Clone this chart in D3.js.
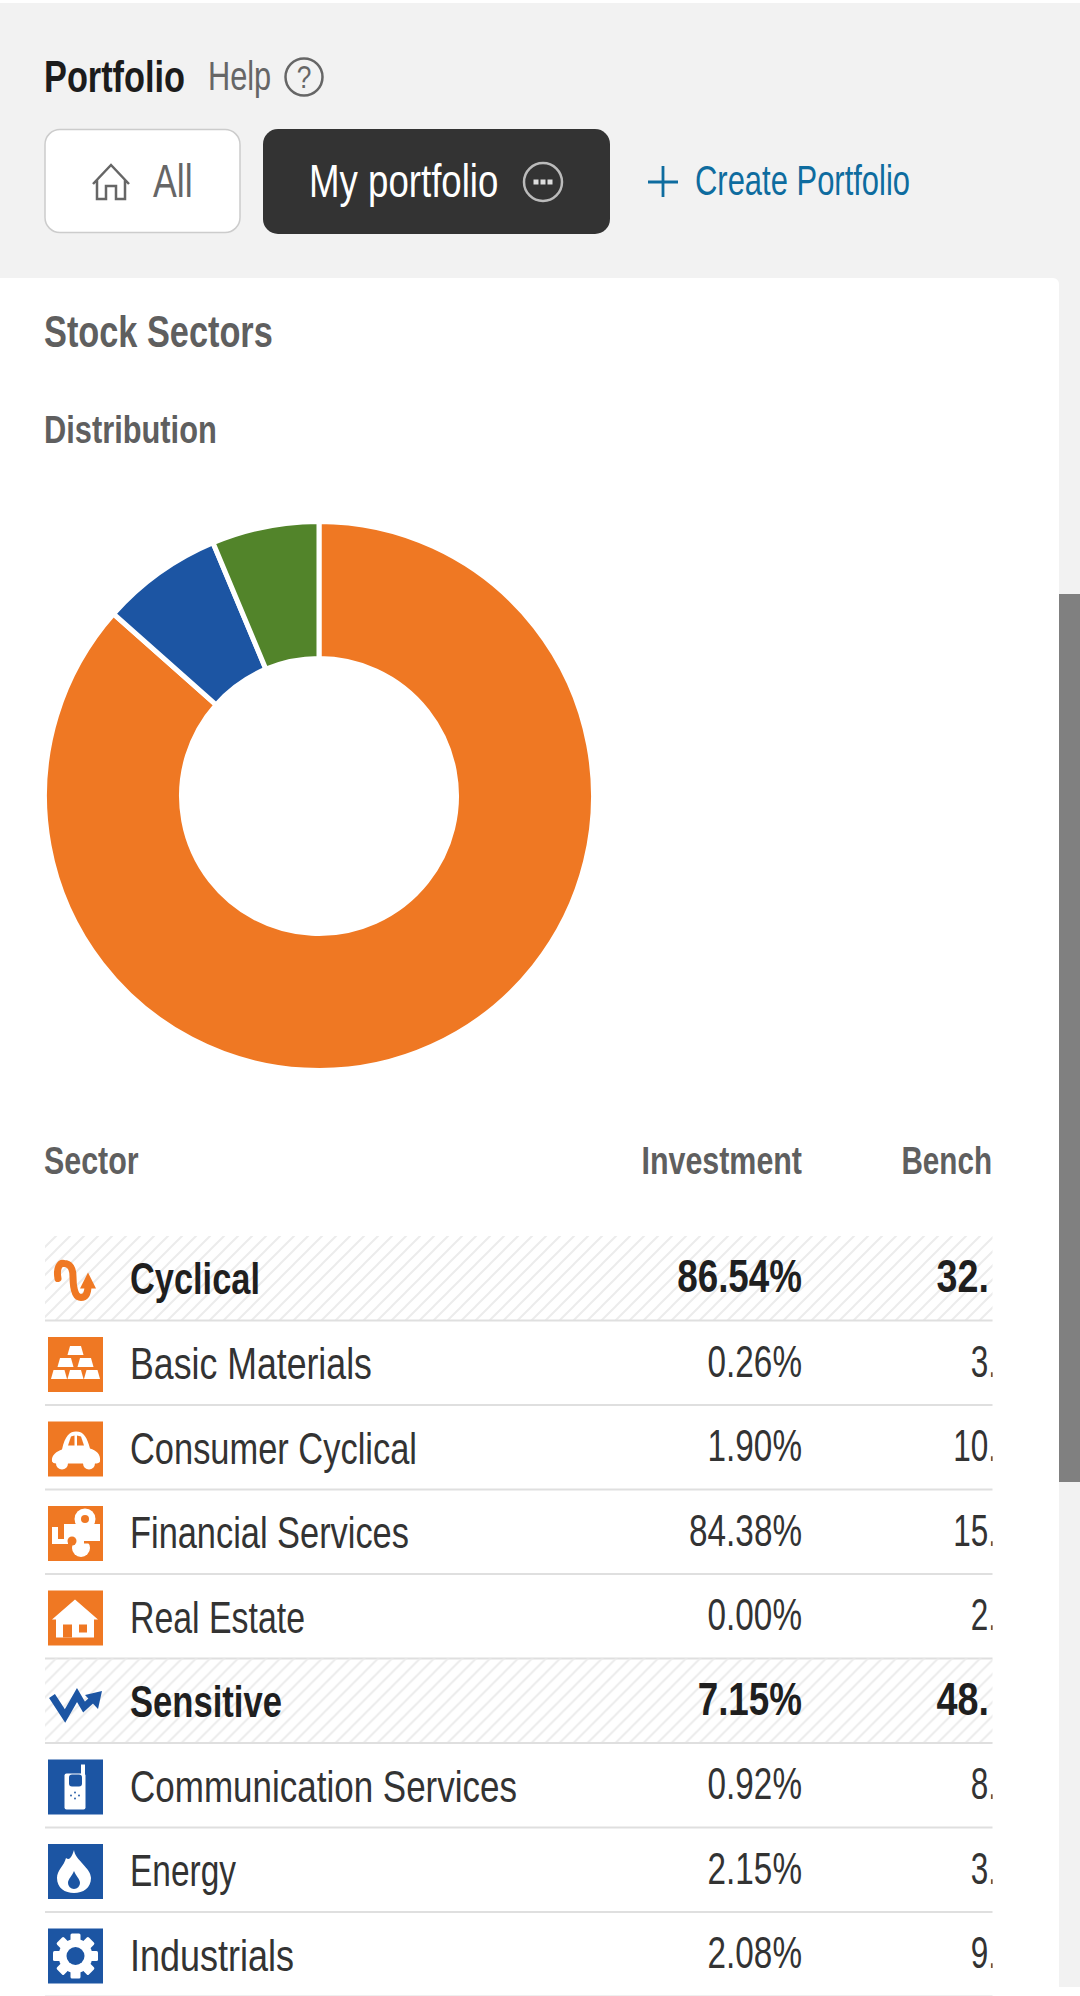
<!DOCTYPE html>
<html>
<head>
<meta charset="utf-8">
<script src="https://cdn.jsdelivr.net/npm/d3@7"></script>
<style>
  html, body { margin: 0; padding: 0; background: #fff; }
  svg { display: block; }
  text { font-family: "Liberation Sans", sans-serif; }
</style>
</head>
<body>
<div id="chart"></div>
<script>
// sector table
var sectorNames = ["Cyclical", "Basic Materials", "Consumer Cyclical", "Financial Services", "Real Estate",
                   "Sensitive", "Communication Services", "Energy", "Industrials"];
var investmentPct = [86.54, 0.26, 1.90, 84.38, 0.00, 7.15, 0.92, 2.15, 2.08];
var benchLabels = ["32.", "3.", "10.", "15.", "2.", "48.", "8.", "3.", "9."];
var groupRows = ["Cyclical", "Sensitive"];
var iconNames = ["cyclical", "materials", "car", "finance", "house", "sensitive", "phone", "flame", "gear"];

// donut, third share is what the other two leave over
var superSectors = ["Cyclical", "Sensitive", "Defensive"];
var superShares = [86.54, 7.15, 6.31];
var superColors = ["#ef7823", "#1c55a3", "#52842a"];

var orange = superColors[0], blue = superColors[1];
var W = 1080, H = 1996;

// drawn widths of the row names, the squeezed face runs a bit different per word
var nameWidths = { "Cyclical": 130, "Basic Materials": 242, "Consumer Cyclical": 287, "Financial Services": 279,
  "Real Estate": 175, "Sensitive": 152, "Communication Services": 387, "Energy": 106, "Industrials": 164 };

var svg = d3.select("#chart").append("svg").attr("width", W).attr("height", H);

var defs = svg.append("defs");
var hatch = defs.append("pattern").attr("id", "hatch")
  .attr("patternUnits", "userSpaceOnUse").attr("width", 14).attr("height", 14);
hatch.append("path").attr("d", "M-2,2 L2,-2 M0,14 L14,0 M12,16 L16,12")
  .attr("stroke", "#ececec").attr("stroke-width", 2).attr("fill", "none");
defs.append("clipPath").attr("id", "tableClip").append("rect")
  .attr("x", 44).attr("y", 1130).attr("width", 948.5).attr("height", 866);

// no condensed face is installed, so squeeze the glyphs to the reference width.
// squeeze below 1 is a factor, above 1 a width in pixels
function label(g, x, y, str, size, color, weight, anchor, squeeze) {
  var t = g.append("text").text(str)
    .attr("font-size", size).attr("fill", color)
    .attr("font-weight", weight || "normal")
    .attr("text-anchor", anchor || "start");
  var k = 1;
  if (squeeze) {
    k = squeeze > 1 ? squeeze / t.node().getComputedTextLength() : squeeze;
  }
  t.attr("transform", "translate(" + x + "," + y + ") scale(" + k + ",1)");
  return t;
}

// page background, card, scrollbar
svg.append("rect").attr("width", W).attr("height", H).attr("fill", "#f2f2f2");
svg.append("rect").attr("width", W).attr("height", 3).attr("fill", "#fff");
svg.append("rect").attr("x", -10).attr("y", 278).attr("width", 1069).attr("height", 1730).attr("rx", 6).attr("fill", "#fff");
svg.append("rect").attr("x", 1059).attr("y", 594).attr("width", 21).attr("height", 888).attr("fill", "#808080");
svg.append("rect").attr("x", 1059).attr("y", 1987).attr("width", 21).attr("height", 9).attr("fill", "#fff");

// header
var head = svg.append("g");
label(head, 44, 92, "Portfolio", 44, "#1c1c1c", "bold", "start", 0.78);
label(head, 208, 90, "Help", 41, "#666", "normal", "start", 0.75);
head.append("circle").attr("cx", 304).attr("cy", 77).attr("r", 18.5)
  .attr("fill", "none").attr("stroke", "#666").attr("stroke-width", 2.5);
label(head, 304, 88, "?", 31, "#666", "normal", "middle", 0.85);

head.append("rect").attr("x", 45).attr("y", 129.5).attr("width", 195).attr("height", 103).attr("rx", 15)
  .attr("fill", "#fff").attr("stroke", "#ccc").attr("stroke-width", 1.5);
head.append("path").attr("d", "M93,184 L111,165 L129,184 M97,180 V199 H106 V186 H116 V199 H125 V180")
  .attr("fill", "none").attr("stroke", "#666").attr("stroke-width", 2.5);
label(head, 153, 197, "All", 47, "#666", "normal", "start", 0.76);

head.append("rect").attr("x", 263).attr("y", 129).attr("width", 347).attr("height", 105).attr("rx", 15).attr("fill", "#333");
label(head, 309, 197, "My portfolio", 47, "#fff", "normal", "start", 0.78);
head.append("circle").attr("cx", 543).attr("cy", 182).attr("r", 19)
  .attr("fill", "none").attr("stroke", "#bbb").attr("stroke-width", 2.5);
head.selectAll(".dot").data([-7, 0, 7]).join("rect").attr("class", "dot")
  .attr("x", function(d) { return 543 + d - 2.5; }).attr("y", 179.5).attr("width", 5).attr("height", 5).attr("fill", "#ddd");

head.append("path").attr("d", "M648,182 H678 M663,166 V197")
  .attr("stroke", "#0e6c9f").attr("stroke-width", 2.8).attr("fill", "none");
label(head, 695, 195, "Create Portfolio", 43, "#0e6c9f", "normal", "start", 0.72);

label(head, 44, 347, "Stock Sectors", 44, "#5f5f5f", "bold", "start", 0.78);
label(head, 44, 443, "Distribution", 39, "#5f5f5f", "bold", "start", 0.79);

// donut
var pie = d3.pie().sort(null).value(function(d) { return d; });
var arc = d3.arc().innerRadius(137.5).outerRadius(274.5);
svg.append("g").attr("transform", "translate(319,796)")
  .selectAll("path").data(pie(superShares)).join("path")
  .attr("d", arc)
  .attr("fill", function(d, i) { return superColors[i]; })
  .attr("stroke", "#fff").attr("stroke-width", 5);

// icon drawings in a 55 x 55 box
function box(g, color) {
  g.append("rect").attr("width", 55).attr("height", 55).attr("fill", color);
}
function shape(g, d, fill) {
  return g.append("path").attr("d", d).attr("fill", fill || "#fff");
}
function dot(g, x, y, r, fill) {
  return g.append("circle").attr("cx", x).attr("cy", y).attr("r", r).attr("fill", fill || "#fff");
}
var icons = {
  cyclical: function(g) {
    g.append("path").attr("d", "M10,26 C8,15 12,10 16,11 C22,11 25,16 25,24 C25,32 26,45 33,45 C38,45 40,40 40,33")
      .attr("fill", "none").attr("stroke", orange).attr("stroke-width", 7).attr("stroke-linecap", "round");
    shape(g, "M40,20 L48,36 L32,36Z", orange);
  },
  materials: function(g) {
    box(g, orange);
    [[27.5, 9], [17.5, 21], [37.5, 21], [11, 33], [27.5, 33], [44, 33]].forEach(function(p) {
      shape(g, "M" + (p[0] - 5.5) + "," + p[1] + " h11 l2.5,9 h-16Z");
    });
  },
  car: function(g) {
    box(g, orange);
    shape(g, "M4,40 C3,33 9,30 14,28 C17,14 22,10 28,10 C36,10 39,16 42,27 C48,29 53,32 52,40 Q51,42 47,42 L8,42 Q5,42 4,40Z");
    dot(g, 14, 42, 6);
    dot(g, 41, 42, 6);
    shape(g, "M20,24 L23,15 L26.5,14 L26.5,24Z", orange);
    shape(g, "M29,14 L33,15 L36,24 L29,24Z", orange);
  },
  finance: function(g) {
    box(g, orange);
    shape(g, "M16,18 H52 V36 H16Z");
    dot(g, 37, 13, 10.5);
    dot(g, 37, 13, 4, orange);
    shape(g, "M4,21 H10 V33 H20 V38 H4Z");
    g.append("rect").attr("x", 10).attr("y", 18).attr("width", 6).attr("height", 15).attr("fill", orange);
    dot(g, 33, 42, 9);
    dot(g, 24, 35, 4.5, orange);
    g.append("rect").attr("x", 36).attr("y", 35).attr("width", 16).attr("height", 2.5).attr("fill", orange);
  },
  house: function(g) {
    box(g, orange);
    shape(g, "M27,9 L50,29 H46 V47 H8 V29 H4Z");
    g.append("rect").attr("x", 15).attr("y", 34).attr("width", 9).attr("height", 13).attr("fill", orange);
    g.append("rect").attr("x", 31).attr("y", 34).attr("width", 8).attr("height", 8).attr("fill", orange);
  },
  sensitive: function(g) {
    g.append("path").attr("d", "M4,21 L17,41 L29,20 L36,32 L46,23")
      .attr("fill", "none").attr("stroke", blue).attr("stroke-width", 7);
    shape(g, "M54,16 L37,20 L50,34Z", blue);
  },
  phone: function(g) {
    box(g, blue);
    g.append("rect").attr("x", 16.5).attr("y", 14).attr("width", 21).attr("height", 36).attr("rx", 2).attr("fill", "#fff");
    g.append("rect").attr("x", 33).attr("y", 5).attr("width", 4).attr("height", 10).attr("fill", "#fff");
    g.append("rect").attr("x", 21).attr("y", 15).attr("width", 13).attr("height", 12).attr("rx", 3).attr("fill", blue);
    [[27, 33], [23, 36], [31, 36], [27, 39]].forEach(function(p) { dot(g, p[0], p[1], 0.9, blue); });
  },
  flame: function(g) {
    box(g, blue);
    shape(g, "M26,6 C27,16 43,24 43,34 C43,44 35,49 26,49 C17,49 9,44 9,34 C9,26 16,22 18,14 C22,17 24,12 26,6Z");
    shape(g, "M26,27 C28,32 32,35 32,39 A6,6 0 0 1 20,39 C20,35 24,32 26,27Z", blue);
  },
  gear: function(g) {
    box(g, blue);
    d3.range(8).forEach(function(k) {
      g.append("rect").attr("x", 22.5).attr("y", 5).attr("width", 10).attr("height", 10).attr("rx", 1.5).attr("fill", "#fff")
        .attr("transform", "rotate(" + (k * 45) + " 27.5 27.5)");
    });
    dot(g, 27.5, 27.5, 17);
    dot(g, 27.5, 27.5, 9, blue);
  }
};

// table
var rowY = d3.scaleBand().domain(sectorNames).range([1236, 1236 + 84.5 * sectorNames.length]);
var fmtPct = function(v) { return d3.format(".2f")(v) + "%"; };

var table = svg.append("g").attr("clip-path", "url(#tableClip)");
label(table, 44, 1174, "Sector", 38, "#5f5f5f", "bold", "start", 0.8);
label(table, 802, 1174, "Investment", 38, "#5f5f5f", "bold", "end", 0.8);
label(table, 992, 1174, "Bench", 38, "#5f5f5f", "bold", "end", 0.78);

sectorNames.forEach(function(name, i) {
  var y = rowY(name), isGroup = groupRows.indexOf(name) >= 0;
  var row = table.append("g").attr("transform", "translate(0," + y + ")");
  if (isGroup) {
    row.append("rect").attr("x", 45).attr("y", 0).attr("width", 948).attr("height", rowY.bandwidth())
      .attr("fill", "url(#hatch)");
  }
  row.append("line").attr("x1", 45).attr("x2", 993)
    .attr("y1", rowY.bandwidth()).attr("y2", rowY.bandwidth())
    .attr("stroke", "#dfdfdf").attr("stroke-width", 2);
  if (isGroup) {
    label(row, 130, 58, name, 45, "#1f1f1f", "bold", "start", nameWidths[name]);
    label(row, 802, 56, fmtPct(investmentPct[i]), 46, "#1f1f1f", "bold", "end", 0.8);
    label(row, 989, 56, benchLabels[i], 46, "#1f1f1f", "bold", "end", 0.82);
  } else {
    label(row, 130, 58.5, name, 44, "#333", "normal", "start", nameWidths[name]);
    label(row, 802, 56, fmtPct(investmentPct[i]), 45, "#333", "normal", "end", 0.74);
    label(row, 997, 56, benchLabels[i], 45, "#333", "normal", "end", 0.7);
  }
  var ic = row.append("g").attr("transform", "translate(48,16.5)");
  icons[iconNames[i]](ic);
});
</script>
</body>
</html>
